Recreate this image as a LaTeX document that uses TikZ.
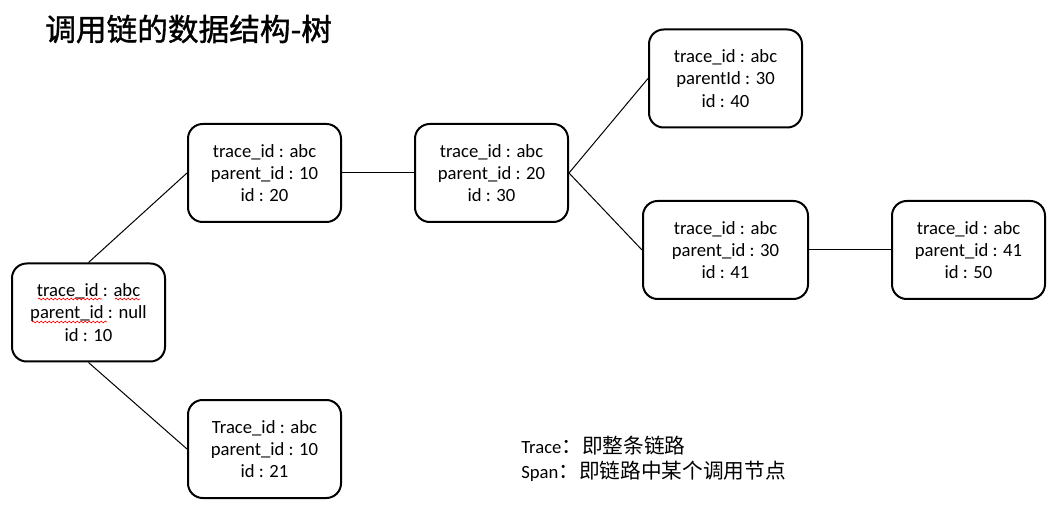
\documentclass[tikz,border=0pt]{standalone}
\usepackage{fontspec}
\setmainfont{Carlito}
\newfontfamily\cjk{Noto Sans CJK SC}
\newfontfamily\cjktitle[FakeBold=1.2]{Noto Sans CJK SC}
\usetikzlibrary{decorations.pathmorphing}
\tikzset{
  span/.style={draw, line width=1.5pt, rounded corners=11pt, minimum width=114.75pt, minimum height=73.5pt, inner sep=0pt, align=center, font=\fontsize{14}{16.8}\selectfont},
  wide/.style={minimum width=123.75pt},
  link/.style={line width=0.75pt},
  spell/.style={red, line width=0.5pt, decorate, decoration={snake, segment length=3pt, amplitude=0.7pt}},
  note/.style={anchor=west, inner sep=0pt, font=\fontsize{14}{16}\selectfont},
  cjknote/.style={font=\fontsize{15.5}{16}\selectfont\cjk}
}
\begin{document}
\begin{tikzpicture}[x=0.75pt,y=-0.75pt]
\path[use as bounding box] (0,0) rectangle (1057,520);
\node[anchor=west, inner sep=0pt, font=\fontsize{23}{26}\selectfont\cjktitle] (title) at (45,29) {调用链的数据结构-树};
\node[span] (n10) at (88.5,312.5) {trace\_id : abc\\parent\_id : null\\id : 10};
\node[span] (n20) at (264.5,173) {trace\_id : abc\\parent\_id : 10\\id : 20};
\node[span] (n21) at (264.5,449) {Trace\_id : abc\\parent\_id : 10\\id : 21};
\node[span] (n30) at (491.5,173) {trace\_id : abc\\parent\_id : 20\\id : 30};
\node[span] (n40) at (725.5,78.5) {trace\_id : abc\\parentId : 30\\id : 40};
\node[span, wide] (n41) at (725.5,250) {trace\_id : abc\\parent\_id : 30\\id : 41};
\node[span] (n50) at (968.5,250) {trace\_id : abc\\parent\_id : 41\\id : 50};
\draw[link] (n10.north) -- (n20.west);
\draw[link] (n10.south) -- (n21.west);
\draw[link] (n20.east) -- (n30.west);
\draw[link] (n30.east) -- (n40.west);
\draw[link] (n30.east) -- (n41.west);
\draw[link] (n41.east) -- (n50.west);
\draw[spell] (38,299) -- (102,299);
\draw[spell] (115,299) -- (140,299);
\draw[spell] (32,322) -- (107,322);
\node[note] (trace) at (521,446) {Trace{\cjk\fontsize{15.5}{16}\selectfont ：即整条链路}};
\node[note] (span) at (521,471) {Span{\cjk\fontsize{15.5}{16}\selectfont ：即链路中某个调用节点}};
\end{tikzpicture}
\end{document}
